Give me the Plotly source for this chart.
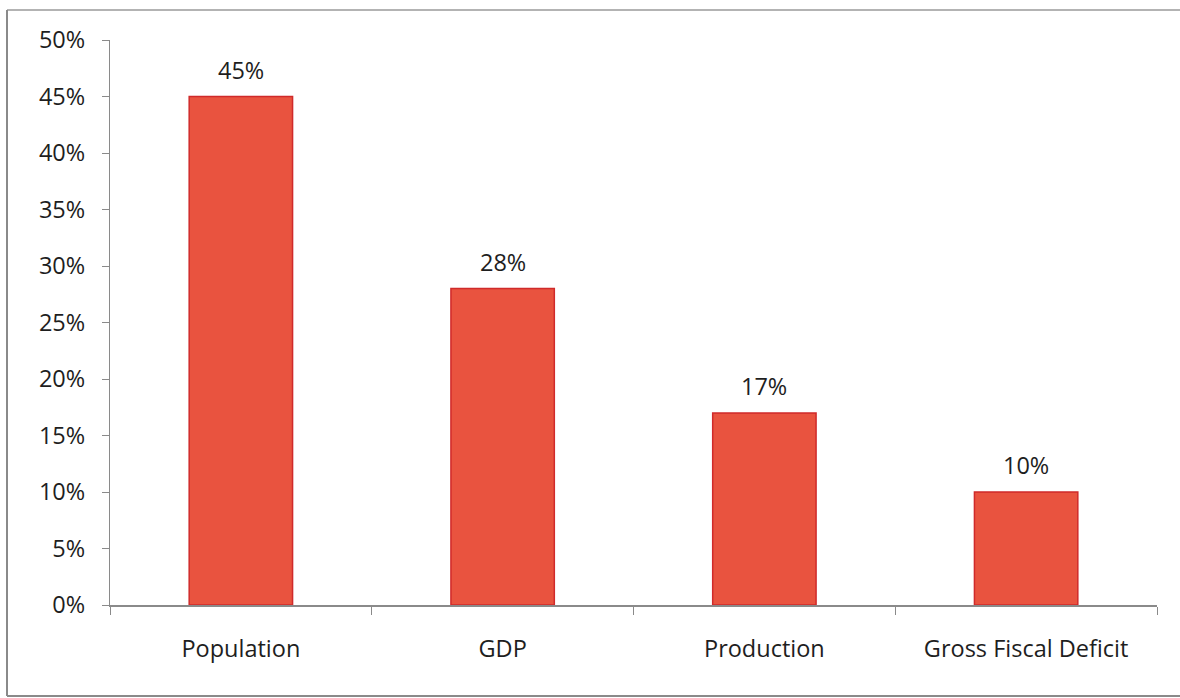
import plotly.graph_objects as go

categories = ["Population", "GDP", "Production", "Gross Fiscal Deficit"]
shares = [0.45, 0.28, 0.17, 0.10]
value_labels = ["45%", "28%", "17%", "10%"]
y_ticks = [0, 0.05, 0.10, 0.15, 0.20, 0.25, 0.30, 0.35, 0.40, 0.45, 0.50]
y_tick_labels = ["0%", "5%", "10%", "15%", "20%", "25%", "30%", "35%", "40%", "45%", "50%"]

W, H = 1180, 698
ML, MR, MT, MB = 110, 23, 40, 93
PW, PH = W - ML - MR, H - MT - MB

FONT = "Open Sans, sans-serif"
TEXT = "#1e1e1e"
AXIS = "#8a8a8a"
FS = 23.5

fig = go.Figure()
fig.add_trace(go.Bar(
    x=categories,
    y=shares,
    width=0.395,
    marker=dict(color="#e9533f", line=dict(color="#d02a2a", width=1.5)),
    textposition="none",
    hoverinfo="skip",
))

# value labels floating above each bar
for cat, v, lab in zip(categories, shares, value_labels):
    fig.add_annotation(x=cat, y=v, text=lab, showarrow=False, yshift=27,
                       font=dict(family=FONT, size=FS, color=TEXT))

# frame around the whole chart
def px_x(p):
    return (p - ML) / PW

def px_y(p):
    return (H - MB - p) / PH

fig.add_shape(type="line", xref="paper", yref="paper",
              x0=px_x(7), x1=px_x(1180), y0=px_y(10), y1=px_y(10),
              line=dict(color="#9a9a9a", width=1.5))
fig.add_shape(type="line", xref="paper", yref="paper",
              x0=px_x(7), x1=px_x(7), y0=px_y(10), y1=px_y(696),
              line=dict(color="#8a8a8a", width=2))
fig.add_shape(type="line", xref="paper", yref="paper",
              x0=px_x(7), x1=px_x(1180), y0=px_y(696), y1=px_y(696),
              line=dict(color="#8a8a8a", width=2))

fig.update_layout(
    width=W, height=H,
    margin=dict(l=ML, r=MR, t=MT, b=MB),
    paper_bgcolor="white", plot_bgcolor="white",
    showlegend=False,
    font=dict(family=FONT, size=FS, color=TEXT),
    xaxis=dict(
        type="category",
        showline=True, linecolor=AXIS, linewidth=1.5,
        ticks="outside", tickson="boundaries", ticklen=8, tickcolor=AXIS, tickwidth=1.2,
        showgrid=False, zeroline=False,
        tickfont=dict(family=FONT, size=FS, color=TEXT),
        ticklabelstandoff=22,
    ),
    yaxis=dict(
        range=[0, 0.5],
        tickvals=y_ticks, ticktext=y_tick_labels,
        showline=True, linecolor=AXIS, linewidth=1.2,
        ticks="outside", ticklen=7, tickcolor=AXIS, tickwidth=1.2,
        showgrid=False, zeroline=False,
        tickfont=dict(family=FONT, size=FS, color=TEXT),
        ticklabelstandoff=12,
    ),
)

fig.write_html("out.html")
